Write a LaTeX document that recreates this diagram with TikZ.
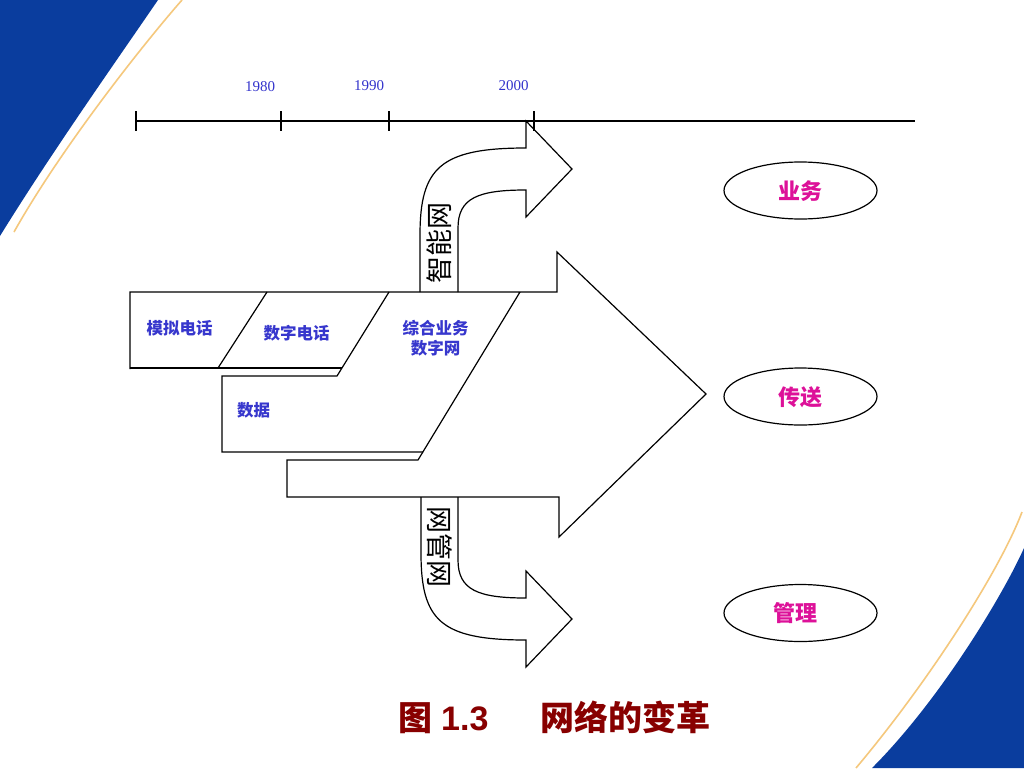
\documentclass[tikz,border=0pt]{standalone}
\usepackage{fontspec}
\usepackage{graphicx}
\setmainfont{Liberation Serif}
\newfontfamily\cjk{Noto Sans CJK SC}
\newfontfamily\arialf{Liberation Sans}
\usetikzlibrary{shapes.geometric}
\definecolor{cornerblue}{RGB}{10,61,158}
\definecolor{orangeline}{RGB}{245,200,125}
\definecolor{yearblue}{RGB}{51,51,204}
\definecolor{lblblue}{RGB}{55,55,205}
\definecolor{magentatext}{RGB}{221,17,153}
\definecolor{titlered}{RGB}{136,0,0}
\tikzset{
  outline/.style={draw=black, line width=1.2pt, line join=miter},
  tline/.style={draw=black, line width=1.4pt},
  year/.style={text=yearblue, font=\fontsize{15}{15}\selectfont, inner sep=0pt},
  lbl/.style={text=lblblue, font=\cjk\bfseries\fontsize{16.5}{20}\selectfont, inner sep=0pt, align=center},
  bandtext/.style={text=black, font=\cjk\fontsize{27}{27}\selectfont, inner sep=0pt},
  ell/.style={draw=black, line width=1.2pt, ellipse, minimum width=153pt, minimum height=57pt, inner sep=0pt},
  elltext/.style={text=magentatext, font=\cjk\bfseries\fontsize{22}{22}\selectfont, inner sep=0pt},
  titletext/.style={text=titlered, inner sep=0pt, anchor=west},
}
\begin{document}
\begin{tikzpicture}[x=1pt,y=-1pt]
\useasboundingbox (0,0) rectangle (1024,768);
\fill[white] (0,0) rectangle (1024,768);
% corner decorations
\fill[cornerblue] (0,0) -- (158,0) .. controls (110,70) and (50,155) .. (0,236) -- cycle;
\draw[orangeline, line width=1.6pt] (182,0) .. controls (140,48) and (60,150) .. (14,232);
\fill[cornerblue] (1024,548) .. controls (1003,595) and (940,700) .. (872,768) -- (1024,768) -- cycle;
\draw[orangeline, line width=1.6pt] (1022,512) .. controls (1000,570) and (930,680) .. (856,768);
% timeline
\coordinate (t0) at (136,121);
\coordinate (tend) at (915,121);
\draw[tline] (t0) -- (tend);
\foreach \x in {136,281,389,534} { \draw[tline] (\x,111) -- (\x,131); }
\node[year] (y80) at (260,87) {1980};
\node[year] (y90) at (369,86) {1990};
\node[year] (y00) at (513.5,86) {2000};
% main arrow
\draw[outline] (130,369) -- (130,292) -- (557,292) -- (557,252) -- (706,394) -- (559,537)
  -- (559,497) -- (287,497) -- (287,460) -- (418,460) -- (520,292);
\draw[outline] (130,368) -- (342,368);
\draw[outline] (389,292) -- (337,376) -- (222,376) -- (222,452) -- (423,452);
\draw[outline] (267,292) -- (218,368);
% upper curved arrow
\draw[outline] (420,292) -- (420,235) .. controls (420,168) and (440,148) .. (526,148)
  -- (526,121) -- (572,169) -- (526,217) -- (526,190)
  .. controls (478,190) and (458,198) .. (458,228) -- (458,292);
% lower curved arrow
\draw[outline] (421,497) -- (421,553) .. controls (421,620) and (440,640) .. (526,640)
  -- (526,667) -- (572,619) -- (526,571) -- (526,598)
  .. controls (478,598) and (458,590) .. (458,560) -- (458,497);
% labels
\node[lbl] (mn) at (179.5,328) {模拟电话};
\node[lbl] (sz) at (296.5,333) {数字电话};
\node[lbl] (zh) at (435.5,338) {综合业务\\数字网};
\node[lbl] (sj) at (253.5,410) {数据};
\node[bandtext, rotate=90] (zn) at (439,243) {智能网};
\node[bandtext, rotate=-90] (wg) at (440,547) {网管网};
% ellipses
\node[ell] (yw) at (800.5,190.5) {};
\node[elltext] (ywt) at (800.5,191) {业务};
\node[ell] (cs) at (800.5,396.5) {};
\node[elltext] (cst) at (800.5,397) {传送};
\node[ell] (gl) at (800.5,613) {};
\node[elltext] (glt) at (795.5,613) {管理};
% title
\node[titletext] (title) at (398,717) {{\cjk\bfseries\fontsize{34}{34}\selectfont 图}\hspace{9pt}{\arialf\bfseries\fontsize{34}{34}\selectfont 1.3}\hspace{52pt}{\cjk\bfseries\fontsize{34}{34}\selectfont 网络的变革}};
\end{tikzpicture}
\end{document}
